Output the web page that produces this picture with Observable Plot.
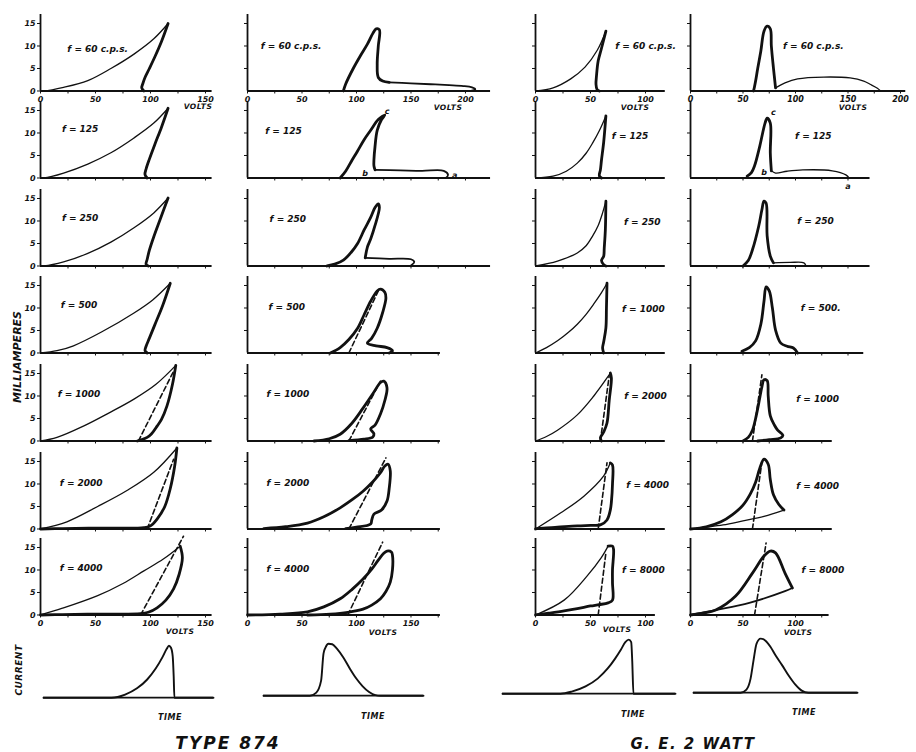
<!DOCTYPE html>
<html><head><meta charset="utf-8">
<script src="https://cdn.jsdelivr.net/npm/d3@7"></script>
<script src="https://cdn.jsdelivr.net/npm/@observablehq/plot@0.6"></script>
<style>
body{margin:0;background:#fff;}
#chart{position:relative;width:916px;height:752px;overflow:hidden;font-family:"DejaVu Sans",sans-serif;background:#fff;}
.lbl{position:absolute;transform:translate(-50%,-50%);font-style:italic;font-weight:bold;white-space:nowrap;color:#111;line-height:1;}
.rot{transform:translate(-50%,-50%) rotate(-90deg);}
</style></head><body><div id="chart"></div><script>
// ===== DATA: [volts, milliamperes] =====
// Type 874, left column
const t874a_f60_thin = [[0,0],[3,0],[21,0.8],[43,2.3],[64,5],[85,8.2],[103,11.6],[116,15]];
const t874a_f60_thick = [[116,15],[110,11],[104,7.6],[99,5],[95,3],[93,1.6],[92,0.7],[94,0]];
const t874a_f125_thin = [[0,0],[3,0],[21,1.1],[43,3.1],[64,5.6],[85,8.9],[103,12.2],[116,15.5]];
const t874a_f125_thick = [[116,15.5],[110,11.3],[104,7.5],[99,4.2],[96,2],[95,0.8],[97,0]];
const t874a_f250_thin = [[0,0],[3,0],[21,0.9],[43,2.8],[64,5.3],[85,8.5],[103,11.8],[116,15.1]];
const t874a_f250_thick = [[116,15.1],[109,10.5],[103,6.5],[99,3.5],[97,1.5],[96,0.4],[98,0]];
const t874a_f500_thin = [[0,0],[15,0.5],[30,1.6],[55,4.6],[85,8.9],[102,11.8],[118,15.5]];
const t874a_f500_thick = [[118,15.5],[111,10.5],[104,6.3],[99,3.3],[96,1.5],[95,0.5],[97,0]];
const t874a_f1000_thin = [[0,0],[15,0.8],[39,3.3],[62,6.2],[85,9.3],[105,12.6],[123,16.8]];
const t874a_f1000_thick = [[123,16.8],[120,12.6],[115,7.8],[110,4.8],[106,3.3],[101,1.6],[97,0.8],[92,0.3],[88,0]];
const t874a_f1000_dash = [[89,0],[121,15.5]];
const t874a_f2000_thin = [[0,0],[24,1.6],[52,5],[79,8.6],[103,12.6],[124,18]];
const t874a_f2000_thick = [[124,18],[122,14],[118,9],[113,5],[106,2.2],[100,0.7],[94,0.3],[60,0.2],[20,0.1],[0,0]];
const t874a_f2000_dash = [[97,0],[121,15.5]];
const t874a_f4000_thin = [[0,0],[20,1.5],[52,4.3],[75,7],[94,9.8],[112,12.5],[127,15.3]];
const t874a_f4000_thick = [[127,15.3],[129,12.7],[126,9],[121,5.8],[114,3.3],[106,1.6],[98,0.6],[91,0.3],[60,0.2],[20,0.1],[0,0]];
const t874a_f4000_dash = [[91,0],[130,17.5]];

// Type 874, right column
const t874b_f60_thick = [[88,0],[90,1.5],[97,5],[104,8],[110,10.4],[115,12.8],[118,13.8],[121,13.6],[120,10],[119,6],[120,3],[124,2.2],[130,1.9]];
const t874b_f60_tail = [[130,1.9],[150,1.7],[168,1.5],[185,1.3],[198,1.1],[206,0.8],[209,0.4],[205,0]];
const t874b_f125_thick = [[85,0],[90,1.5],[96,4],[101,6],[107,8.5],[113,10.6],[120,13],[126,14],[123,13],[119,10.6],[117,7],[116,4],[116,2.7],[117,1.8]];
const t874b_f125_tail = [[117,1.8],[140,1.7],[160,1.6],[180,1.6],[184,0.7],[182,0]];
const t874b_f250_thick = [[73,0],[80,0.4],[88,1.3],[95,3],[101,5],[107,8],[113,10.8],[117,13],[120,13.8],[121,13],[117,9],[113,6],[110,4.2],[108,1.8]];
const t874b_f250_tail = [[108,1.8],[130,1.6],[150,1.5],[153,0.9],[150,0.1]];
const t874b_f500_thick = [[76,0],[85,1.2],[93,3],[101,5.5],[107,8.5],[113,11.5],[119,13.8],[122,14.2],[126,13.5],[127,12.2],[124,9],[119,5.5],[114,3.3],[110,2.2],[118,1.6],[128,1.2],[133,0.5],[130,0]];
const t874b_f500_dash = [[93,0],[120,13.8]];
const t874b_f1000_thick = [[61,0],[75,0.5],[85,1.5],[96,4],[106,7.3],[115,10.5],[122,13],[125,13.3],[128,11.8],[126,9],[122,6],[117,3.5],[113,2.7],[116,1.6],[115,0.9],[107,0.4],[93,0.1]];
const t874b_f1000_dash = [[93,0],[122,13.3]];
const t874b_f2000_thick = [[15,0.1],[35,0.5],[55,1.3],[70,2.7],[85,4.7],[96,6.5],[106,8.4],[115,10.5],[122,12.5],[126,14],[129,14.4],[131,12.9],[130,9],[128,6.2],[123,4.2],[116,3.3],[114,2],[113,1.1],[100,0.4],[90,0.1]];
const t874b_f2000_dash = [[93,0],[127,15.8]];
const t874b_f4000_thick = [[0,0],[30,0.2],[55,0.7],[70,1.8],[85,3.6],[96,5.7],[106,8],[114,10.2],[120,12.2],[125,13.7],[128,14.2],[132,14],[133,13.3],[133,10],[131,7.3],[127,5.2],[122,3.6],[114,2.2],[106,1.3],[92,0.6],[76,0.2],[55,0]];
const t874b_f4000_dash = [[92,0],[124,16.2]];

// G.E. 2 watt, left column
const geA_f60_thin = [[0,0],[16,0.7],[32,2.7],[45,5.3],[56,9],[64,13.3]];
const geA_f60_thick = [[64,13.3],[60,9.5],[57,6.7],[55.5,3.5],[55,1.5],[56,0.3],[58,0]];
const geA_f125_thin = [[0,0],[16,0.4],[28,1.5],[38,3.3],[46,5.5],[52,7.8],[58,10.5],[64,13.8]];
const geA_f125_thick = [[64,13.8],[62,8],[60,4],[59,1.8],[58,0.5],[60,0]];
const geA_f250_thin = [[0,0],[20,1.1],[38,2.9],[46,4.5],[52,6.7],[57,9],[61,11.8],[64,14.4]];
const geA_f250_thick = [[64,14.4],[63.5,8],[62.5,4],[62,2.2],[60,1.2],[62,0.3],[64,0]];
const geA_f1000_thin = [[0,0],[10,1.2],[20,2.7],[30,4.6],[38,6.4],[46,8.6],[53,10.9],[60,13.4],[65,15.5]];
const geA_f1000_thick = [[65,15.5],[64.5,10],[64,5.6],[62,2.5],[61,1.1],[62,0]];
const geA_f2000_thin = [[0,0],[10,1],[20,2.4],[38,5.8],[53,10],[65,14],[68,15.1]];
const geA_f2000_thick = [[68,15.1],[69,14],[67,9],[65,4],[62,2],[59,0.7],[60,0]];
const geA_f2000_dash = [[59,0],[67,14.5]];
const geA_f4000_thin = [[0,0],[23,3.6],[44,7.3],[62,11.8],[68,14.7]];
const geA_f4000_thick = [[68,14.7],[70,14.2],[70,10],[69,6],[68,4.2],[65,2],[59,0.9],[50,0.8],[38,0.7],[20,0.4],[7,0.2],[0,0]];
const geA_f4000_dash = [[57,0],[65,14.7]];
const geA_f8000_thin = [[0,0],[26,3.3],[47,8.7],[60,12.8],[66,15.3]];
const geA_f8000_thick = [[66,15.3],[70,15.3],[71,14.5],[70,10],[70,7.1],[70,3.3],[66,2.7],[58,2.3],[50,2],[38,1.4],[26,0.9],[12,0.4],[0,0]];
const geA_f8000_dash = [[57,0],[64,13.8]];

// G.E. 2 watt, right column
const geB_f60_thick = [[60,0],[61,1],[62,2.2],[64,5],[67,8.9],[70,13.3],[73,14.4],[76,13.8],[77,10],[79,5.1],[81,0.7]];
const geB_f60_hump = [[81,0.7],[90,1.8],[102,2.7],[127,3.1],[152,2.9],[165,2.2],[171,1.5],[178,0.6],[181,0]];
const geB_f125_thick = [[54,0.4],[58,1.2],[61,2.7],[66,7.1],[71,12.2],[73,13.3],[76,12.2],[76,5.6],[77,1.6]];
const geB_f125_tail = [[77,1.6],[81,1.1],[92,1.5],[107,1.8],[135,1.6],[148,0.7],[151,0]];
const geB_f250_thick = [[50,0],[55,1.2],[59,3.6],[65,8.9],[68,12.5],[70,14.4],[72,14],[73,6.7],[76,2.2],[79,0.7]];
const geB_f250_tail = [[79,0.7],[95,0.8],[108,0.7],[110,0]];
const geB_f500_thick = [[49,0.4],[56,1.2],[62,2.7],[67,6.4],[70,11.5],[72,14.7],[75,13.8],[78,10],[81,5.1],[86,2.2],[92,1.5],[98,1.1],[102,0]];
const geB_f1000_thick = [[50,0],[55,0.8],[59,2.4],[62,5],[65,8.4],[68,12],[70,13.6],[73,13.4],[74,10],[76,5.6],[80,3.5],[83,2.4],[88,1.3],[86,0.7],[75,0.3],[64,0]];
const geB_f1000_dash = [[59,0],[68,14.7]];
const geB_f4000_thick = [[0,0],[15,0.5],[29,1.6],[40,3.2],[50,5.3],[57,7.8],[62,10.4],[66,13.5],[70,15.5],[74,14.4],[76,11],[79,7.6],[84,5.5],[89,4.2]];
const geB_f4000_lower = [[89,4.2],[70,2.8],[50,1.8],[31,0.9],[15,0.4],[0,0]];
const geB_f4000_dash = [[59,0],[68,14.9]];
const geB_f8000_thick = [[0,0],[12,0.4],[24,1.1],[43,4.2],[59,9.3],[70,13.1],[76,14.2],[81,13.8],[90,9.3],[97,6]];
const geB_f8000_lower = [[97,6],[90,5.3],[56,2.7],[24,1.1],[0,0]];
const geB_f8000_dash = [[61,0],[72,16]];

// Current vs time (time 0-100, current arbitrary)
const cur874A = [[0,0],[40,0],[48,0.6],[55,1.8],[61,3.5],[66,5.6],[70,7.8],[72.5,9.4],[73.8,10],[75,9.6],[76,8],[76.6,4],[77,0],[100,0]];
const cur874B = [[0,0],[29,0],[33,0.6],[36,2.9],[37.5,8.1],[38.8,9.3],[40.6,10],[43,9.9],[46,9],[50,7.3],[54,5.2],[58,3.3],[62,1.8],[66,0.7],[70,0.1],[73,0],[100,0]];
const curGEA = [[0,0],[33.5,0],[40,0.4],[48,1.4],[55,2.9],[60.7,4.8],[65,6.7],[68.5,8.5],[71,9.9],[73,10.4],[74.4,9.9],[75,6.3],[75.7,0],[100,0]];
const curGEB = [[0,0],[28.7,0],[32.3,0.6],[34.8,2.7],[36.6,6.2],[38.4,9.4],[40.9,10.4],[43.9,10],[47,8.8],[50,7.2],[54,5.3],[58,3.3],[62,1.6],[66,0.4],[70,0],[100,0]];

// Text
const freq874A = ["f = 60 c.p.s.","f = 125","f = 250","f = 500","f = 1000","f = 2000","f = 4000"];
const freq874B = ["f = 60 c.p.s.","f = 125","f = 250","f = 500","f = 1000","f = 2000","f = 4000"];
const freqGEA = ["f = 60 c.p.s.","f = 125","f = 250","f = 1000","f = 2000","f = 4000","f = 8000"];
const freqGEB = ["f = 60 c.p.s.","f = 125","f = 250","f = 500.","f = 1000","f = 4000","f = 8000"];
const yTickValues = [0,5,10,15];
const pointLetters = ["c","b","a"];
const titles = ["TYPE 874","G. E. 2 WATT"];

// ===== LAYOUT =====
const KY = 4.5, Y_MAX = 19, Y_AXIS_TOP = 17;
const rowBase = [90,177,265,352,440,528,614];
const cols = [
  {ox:40, kx:1.1, ends:[156,156,156,156,156,156,156], freq:freq874A,
   thin:[t874a_f60_thin,t874a_f125_thin,t874a_f250_thin,t874a_f500_thin,t874a_f1000_thin,t874a_f2000_thin,t874a_f4000_thin],
   thick:[t874a_f60_thick,t874a_f125_thick,t874a_f250_thick,t874a_f500_thick,t874a_f1000_thick,t874a_f2000_thick,t874a_f4000_thick],
   mid:[null,null,null,null,null,null,null],
   dash:[null,null,null,null,t874a_f1000_dash,t874a_f2000_dash,t874a_f4000_dash],
   lab:[[52,9.3],[36,10.9],[36,10.7],[35,10.7],[35,10.4],[37,10.2],[37,10.4]], yLabels:true},
  {ox:247, kx:1.09, ends:[223,223,223,177,177,177,177], freq:freq874B,
   thin:[null,null,null,null,null,null,null],
   thick:[t874b_f60_thick,t874b_f125_thick,t874b_f250_thick,t874b_f500_thick,t874b_f1000_thick,t874b_f2000_thick,t874b_f4000_thick],
   mid:[t874b_f60_tail,t874b_f125_tail,t874b_f250_tail,null,null,null,null],
   dash:[null,null,null,t874b_f500_dash,t874b_f1000_dash,t874b_f2000_dash,t874b_f4000_dash],
   lab:[[40,10],[33,10.4],[37,10.4],[36,10.2],[37,10.4],[37,10.2],[37,10.2]],
   letters:{row:1, pos:[[128,14.8],[108,1.0],[190,0.6]]}},
  {ox:535, kx:1.1, ends:[118,118,118,118,118,118,109], freq:freqGEA,
   thin:[geA_f60_thin,geA_f125_thin,geA_f250_thin,geA_f1000_thin,geA_f2000_thin,geA_f4000_thin,geA_f8000_thin],
   thick:[geA_f60_thick,geA_f125_thick,geA_f250_thick,geA_f1000_thick,geA_f2000_thick,geA_f4000_thick,geA_f8000_thick],
   mid:[null,null,null,null,null,null,null],
   dash:[null,null,null,null,geA_f2000_dash,geA_f4000_dash,geA_f8000_dash],
   lab:[[100,10],[86,9.3],[97,9.8],[98,9.8],[100,10],[102,9.8],[98,10]]},
  {ox:690, kx:1.05, ends:[205,171,171,165,135,135,132], freq:freqGEB,
   thin:[geB_f60_hump,geB_f125_tail,geB_f250_tail,null,null,geB_f4000_lower,null],
   thick:[geB_f60_thick,geB_f125_thick,geB_f250_thick,geB_f500_thick,geB_f1000_thick,geB_f4000_thick,geB_f8000_thick],
   mid:[null,null,null,null,null,null,geB_f8000_lower],
   dash:[null,null,null,null,geB_f1000_dash,geB_f4000_dash,geB_f8000_dash],
   lab:[[117,10],[117,9.3],[119,10],[124,10],[121,9.3],[121,9.5],[126,10]],
   letters:{row:1, pos:[[79,14.6],[70,1.2],[150,-1.9]]}}
];
const currentPanels = [
  {data:cur874A, x0:43, x1:213, base:697},
  {data:cur874B, x0:263, x1:423, base:695},
  {data:curGEA, x0:502, x1:675, base:693},
  {data:curGEB, x0:693, x1:857, base:692}
];
const KYC = 5.2, YC_MAX = 11;

const FONT = "DejaVu Sans, sans-serif";
const chart = document.getElementById("chart");
const X = d => d[0], Y = d => d[1];

function place(svg, left, top) {
  svg.style.position = "absolute";
  svg.style.left = left + "px";
  svg.style.top = top + "px";
  svg.style.background = "transparent";
  svg.style.overflow = "visible";
  svg.style.maxWidth = "none";
  chart.appendChild(svg);
}

cols.forEach((c, ci) => {
  rowBase.forEach((base, r) => {
    const xEnd = c.ends[r];
    const ml = 30, mr = 12, mt = 6, mb = 24;
    const w = ml + xEnd * c.kx + mr;
    const h = mt + Y_MAX * KY + mb;
    const edge = (r === 0 || r === 6);
    const ticks = d3.range(edge ? 0 : 25, xEnd + 0.1, 25);
    const marks = [
      Plot.ruleY([0], {x1: 0, x2: xEnd, stroke: "#111", strokeWidth: 2}),
      Plot.ruleX([0], {y1: 0, y2: Y_AXIS_TOP, stroke: "#111", strokeWidth: 1.8})
    ];
    if (c.thin[r]) marks.push(Plot.line(c.thin[r], {x: X, y: Y, stroke: "#111", strokeWidth: 1.3, curve: "catmull-rom"}));
    if (c.mid[r]) marks.push(Plot.line(c.mid[r], {x: X, y: Y, stroke: "#111", strokeWidth: 1.8, curve: "catmull-rom"}));
    if (c.thick[r]) marks.push(Plot.line(c.thick[r], {x: X, y: Y, stroke: "#111", strokeWidth: 2.8, curve: "catmull-rom", strokeLinejoin: "round", strokeLinecap: "round"}));
    if (c.dash[r]) marks.push(Plot.line(c.dash[r], {x: X, y: Y, stroke: "#111", strokeWidth: 1.6, strokeDasharray: "5,3"}));
    marks.push(Plot.text([c.freq[r]], {x: () => c.lab[r][0], y: () => c.lab[r][1], text: d => d, fontSize: 9, fontStyle: "italic", fontWeight: "bold", fontFamily: FONT, fill: "#111"}));
    if (c.letters && c.letters.row === r) {
      marks.push(Plot.text(pointLetters, {x: (d, i) => c.letters.pos[i][0], y: (d, i) => c.letters.pos[i][1], text: d => d, fontSize: 8, fontStyle: "italic", fontWeight: "bold", fontFamily: FONT, fill: "#111"}));
    }
    const svg = Plot.plot({
      width: w, height: h,
      marginLeft: ml, marginRight: mr, marginTop: mt, marginBottom: mb,
      x: {domain: [0, xEnd], label: null, ticks, tickSize: 3, tickPadding: 2,
          tickFormat: d => (edge && d % 50 === 0) ? String(d) : ""},
      y: {domain: [0, Y_MAX], label: null, ticks: c.yLabels ? yTickValues : yTickValues.slice(1), tickSize: 3, tickPadding: 2,
          tickFormat: d => c.yLabels ? String(d) : ""},
      style: {fontFamily: FONT, fontSize: "8px", fontStyle: "italic", fontWeight: "bold", color: "#111"},
      marks
    });
    place(svg, c.ox - ml, base - Y_MAX * KY - mt);
  });
});

currentPanels.forEach(p => {
  const m = 4;
  const w = (p.x1 - p.x0) + 2 * m;
  const h = YC_MAX * KYC + 2 * m;
  const svg = Plot.plot({
    width: w, height: h, marginLeft: m, marginRight: m, marginTop: m, marginBottom: m,
    x: {domain: [0, 100], axis: null}, y: {domain: [0, YC_MAX], axis: null},
    marks: [
      Plot.ruleY([0], {stroke: "#111", strokeWidth: 1.7}),
      Plot.line(p.data, {x: X, y: Y, stroke: "#111", strokeWidth: 1.9, curve: "monotone-x"})
    ]
  });
  place(svg, p.x0 - m, p.base - YC_MAX * KYC - m);
});

// ===== Text labels =====
function label(text, x, y, size, extra) {
  const d = document.createElement("div");
  d.className = "lbl" + (extra ? " " + extra : "");
  d.textContent = text;
  d.style.left = x + "px";
  d.style.top = y + "px";
  d.style.fontSize = size + "px";
  chart.appendChild(d);
  return d;
}
[[198,107],[448,108],[635,108],[853,108],[180,632],[383,633],[617,630],[798,633]].forEach(([x,y]) => label("VOLTS", x, y, 7.5).style.letterSpacing = "0.5px");
[[170,718],[373,717],[633,715],[804,713]].forEach(([x,y]) => label("TIME", x, y, 8).style.letterSpacing = "0.5px");
label("MILLIAMPERES", 17, 357, 11, "rot");
label("CURRENT", 19, 670, 9, "rot").style.letterSpacing = "0.5px";
label(titles[0], 228, 743, 17).style.letterSpacing = "2px";
label(titles[1], 693, 744, 15).style.letterSpacing = "1.5px";
</script></body></html>
